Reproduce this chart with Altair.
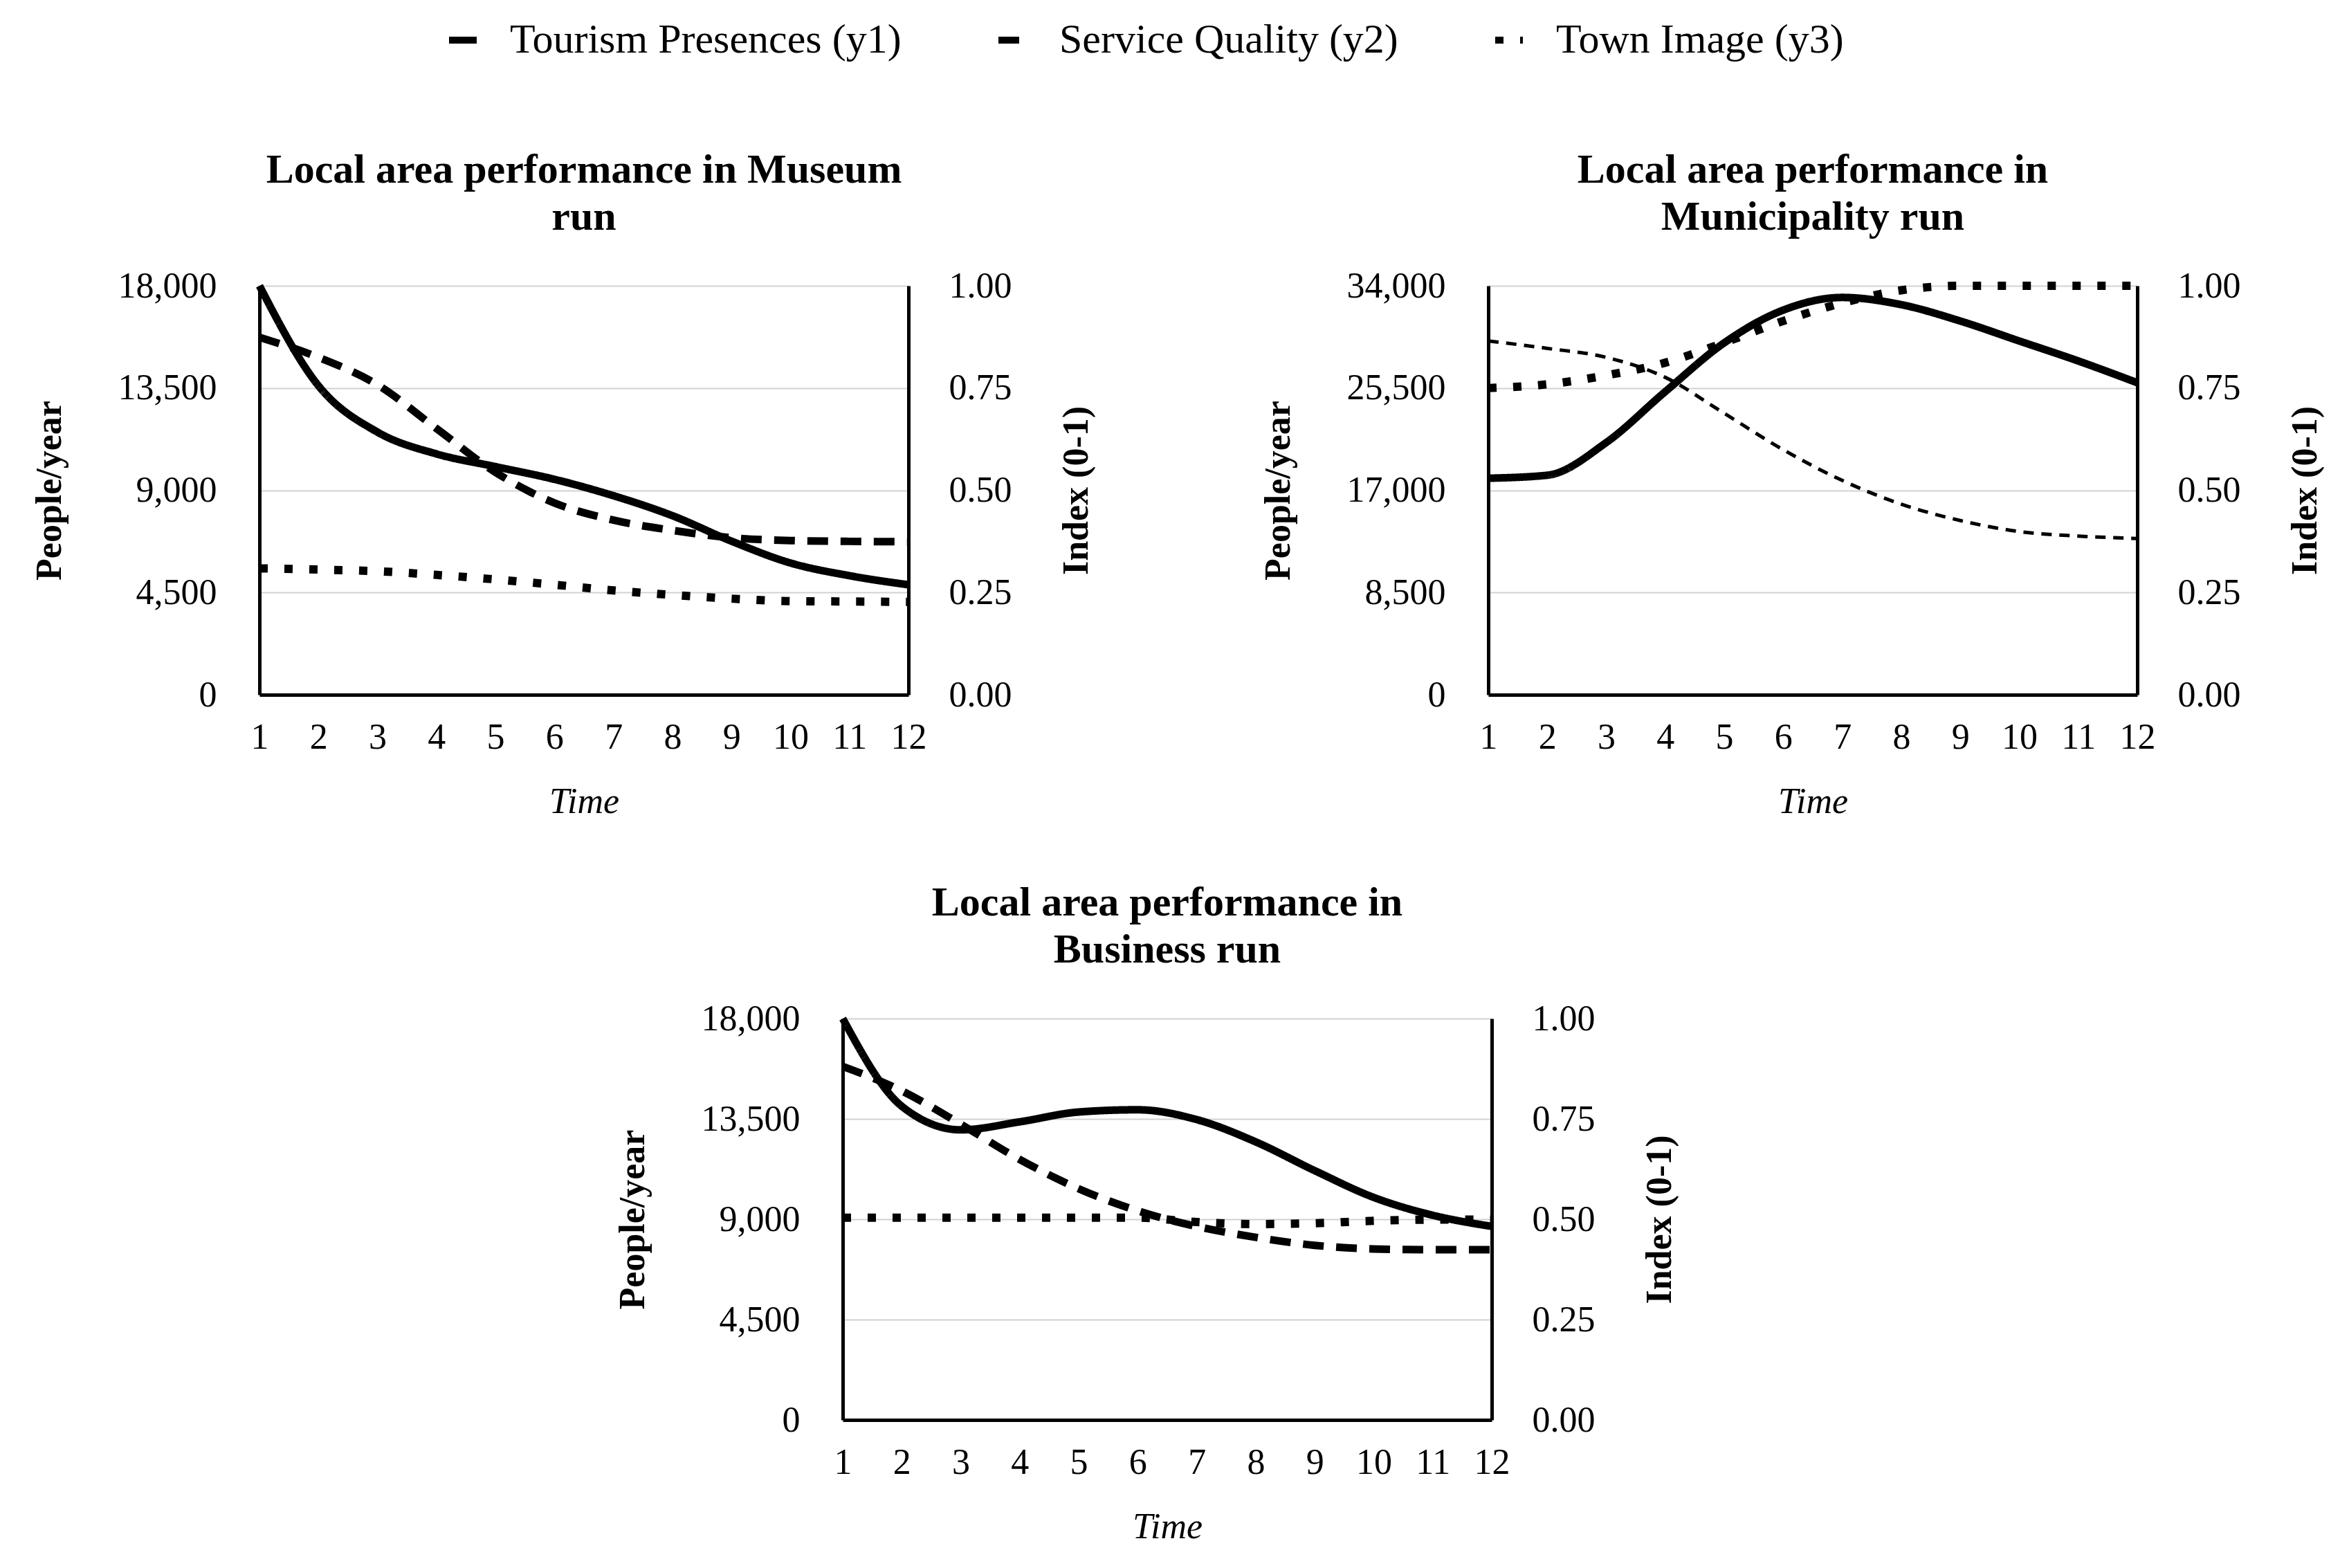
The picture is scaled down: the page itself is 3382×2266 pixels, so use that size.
import altair as alt
import pandas as pd

TIME = list(range(1, 13))
SERIES = ["Tourism Presences (y1)", "Service Quality (y2)", "Town Image (y3)"]
INDEX_TICKS = [0, 0.25, 0.5, 0.75, 1.0]

MUSEUM_TITLE = ["Local area performance in Museum", "run"]
MUSEUM_TICKS = [0, 4500, 9000, 13500, 18000]
MUSEUM_TOURISM = [18000, 13600, 11560, 10600, 10040, 9480, 8760, 7880, 6760, 5800, 5240, 4840]
MUSEUM_SERVICE = [0.874, 0.825, 0.758, 0.651, 0.544, 0.469, 0.427, 0.402, 0.384, 0.377, 0.375, 0.374]
MUSEUM_IMAGE = [0.309, 0.306, 0.302, 0.293, 0.282, 0.269, 0.255, 0.244, 0.235, 0.229, 0.228, 0.227]

MUNI_TITLE = ["Local area performance in", "Municipality run"]
MUNI_TICKS = [0, 8500, 17000, 25500, 34000]
MUNI_TOURISM = [18000, 18250, 20970, 25200, 29260, 31980, 33030, 32430, 31070, 29410, 27750, 25940]
MUNI_SERVICE = [0.865, 0.847, 0.825, 0.776, 0.688, 0.599, 0.524, 0.466, 0.426, 0.399, 0.388, 0.382]
MUNI_IMAGE = [0.750, 0.759, 0.781, 0.812, 0.861, 0.914, 0.958, 0.989, 1.0, 1.0, 1.0, 1.0]

BUSINESS_TITLE = ["Local area performance in", "Business run"]
BUSINESS_TICKS = [0, 4500, 9000, 13500, 18000]
BUSINESS_TOURISM = [18000, 14070, 13010, 13370, 13810, 13910, 13470, 12470, 11180, 9980, 9180, 8680]
BUSINESS_SERVICE = [0.881, 0.820, 0.737, 0.649, 0.576, 0.521, 0.482, 0.455, 0.435, 0.426, 0.424, 0.424]
BUSINESS_IMAGE = [0.504, 0.504, 0.504, 0.504, 0.504, 0.504, 0.493, 0.488, 0.490, 0.496, 0.499, 0.499]

FONT = "Liberation Serif"
LW = 11

dash_scale = alt.Scale(domain=SERIES, range=[[1, 0], [30, 18], [12, 24]])
legend = alt.Legend(
    orient="none", legendX=264, legendY=-385, direction="horizontal", title=None,
    symbolType="stroke", symbolSize=1600, symbolStrokeWidth=10, symbolStrokeColor="black",
    labelFont=FONT, labelFontSize=60, labelColor="black", labelOffset=38,
    columnPadding=120, labelLimit=1000,
)


def frame(series_name, values):
    return pd.DataFrame({"t": TIME, "series": series_name, "value": values})


def panel(title, ticks, tourism, service, image, height, thin_service=False):
    x = alt.X("t:Q", scale=alt.Scale(domain=[1, 12], nice=False),
              axis=alt.Axis(title="Time", values=TIME, labelFlush=False, labelOverlap=False,
                            titleFontStyle="italic", titleFontWeight="normal", grid=False,
                            labelPadding=36, titlePadding=42))
    left = alt.Chart(frame(SERIES[0], tourism)).mark_line(
        color="black", strokeWidth=LW, interpolate="monotone"
    ).encode(
        x=x,
        y=alt.Y("value:Q", scale=alt.Scale(domain=[ticks[0], ticks[-1]], nice=False),
                axis=alt.Axis(title="People/year", values=ticks, format=",d", orient="left",
                              grid=True, gridColor="#d2d2d2", gridWidth=2,
                              labelPadding=62, titlePadding=77)),
        strokeDash=alt.StrokeDash("series:N", scale=dash_scale, legend=legend),
    )
    right_axis = alt.Axis(title="Index (0-1)", values=INDEX_TICKS, format=".2f", orient="right",
                          grid=False, titleAngle=270, titleBaseline="top",
                          labelPadding=58, titlePadding=68)
    yr = alt.Y("value:Q", scale=alt.Scale(domain=[0, 1], nice=False), axis=right_axis)
    if thin_service:
        serv = alt.Chart(frame(SERIES[1], service)).mark_line(
            color="black", strokeWidth=5, strokeDash=[15, 11], interpolate="monotone"
        ).encode(x=x, y=yr)
    else:
        serv = alt.Chart(frame(SERIES[1], service)).mark_line(
            color="black", strokeWidth=LW, interpolate="monotone"
        ).encode(x=x, y=yr, strokeDash=alt.StrokeDash("series:N", scale=dash_scale, legend=legend))
    img = alt.Chart(frame(SERIES[2], image)).mark_line(
        color="black", strokeWidth=LW + 1, interpolate="monotone"
    ).encode(x=x, y=yr, strokeDash=alt.StrokeDash("series:N", scale=dash_scale, legend=legend))
    right = alt.layer(serv, img)
    return alt.layer(left, right).resolve_scale(y="independent").properties(
        title=alt.Title(title), width=938, height=height
    )


p1 = panel(MUSEUM_TITLE, MUSEUM_TICKS, MUSEUM_TOURISM, MUSEUM_SERVICE, MUSEUM_IMAGE, 591)
p2 = panel(MUNI_TITLE, MUNI_TICKS, MUNI_TOURISM, MUNI_SERVICE, MUNI_IMAGE, 591, thin_service=True)
p3 = panel(BUSINESS_TITLE, BUSINESS_TICKS, BUSINESS_TOURISM, BUSINESS_SERVICE, BUSINESS_IMAGE, 580)

# empty spacer so the bottom panel sits in the middle, as in the reference
spacer = alt.Chart(pd.DataFrame({"t": [1]})).mark_point(opacity=0).encode(
    x=alt.X("t:Q", axis=None)
).properties(width=510, height=1)

chart = alt.vconcat(
    alt.hconcat(p1, p2, spacing=240),
    alt.hconcat(spacer, p3, spacing=0),
    spacing=91,
).properties(
    padding={"left": 37, "top": 20, "right": 5, "bottom": 5},
    background="white",
).configure_view(stroke=None).configure_axis(
    labelFont=FONT, titleFont=FONT, labelFontSize=52, titleFontSize=52,
    labelColor="black", titleColor="black", titleFontWeight="bold",
    ticks=False, domainColor="black", domainWidth=5,
).configure_title(
    font=FONT, fontSize=60, fontWeight="bold", color="black", anchor="middle",
    lineHeight=68, offset=42,
)

chart.save("out.html", embed_options={"renderer": "svg", "actions": False})
